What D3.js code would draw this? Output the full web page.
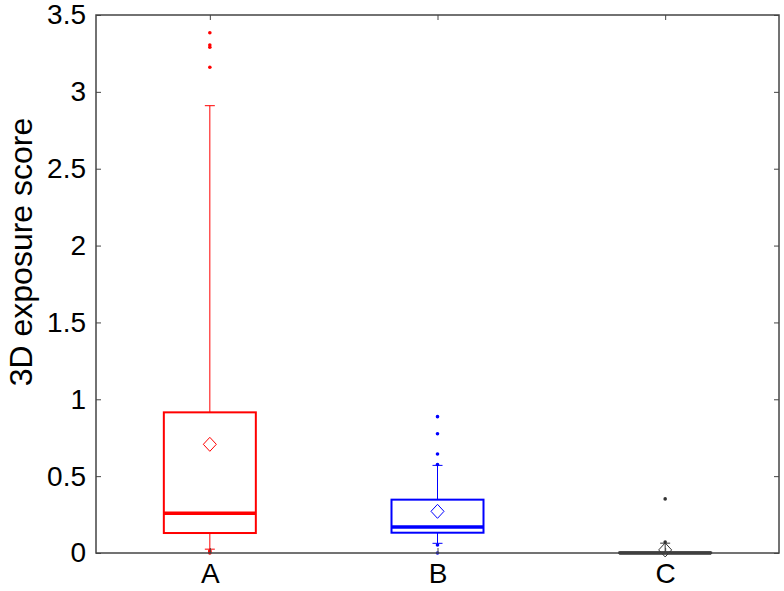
<!DOCTYPE html>
<html><head><meta charset="utf-8">
<script src="https://cdn.jsdelivr.net/npm/d3@7"></script>
<style>body{margin:0;background:#fff}svg{display:block}text{font-family:"Liberation Sans",Arial,sans-serif}</style>
</head><body><svg id="c" width="784" height="591"></svg>
<script>
const categories = ["A","B","C"];
const colors = ["#ff0000","#0000ff","#333333"];
const q1 = [0.13, 0.132, 0.0];
const medians = [0.258, 0.169, 0.0];
const q3 = [0.915, 0.347, 0.003];
const means = [0.707, 0.271, 0.02];
const whiskerLow = [0.025, 0.063, 0.0];
const whiskerHigh = [2.91, 0.57, 0.064];
const outliersA = [3.385, 3.305, 3.29, 3.16, 0.015, 0.008, 0.0];
const outliersB = [0.887, 0.776, 0.644, 0.575, 0.052, 0.0];
const outliersC = [0.352, 0.072];
const outliers = [outliersA, outliersB, outliersC];
const yTicks = [0,0.5,1,1.5,2,2.5,3,3.5];
const yLabel = "3D exposure score";

const svg = d3.select("#c");
const m = {l:96, r:5, t:15, b:38};
const W = 784, H = 591;
const x = d3.scaleLinear().domain([0.5,3.5]).range([m.l, W-m.r]);
const y = d3.scaleLinear().domain([0,3.5]).range([H-m.b, m.t]);
const boxHW = 46, capHW = 5;

const g = svg.append("g");
categories.forEach((c,i)=>{
  const cx = x(i+1), col = colors[i];
  const gg = g.append("g").attr("stroke", col).attr("fill","none");
  gg.append("line").attr("x1",cx).attr("x2",cx).attr("y1",y(q3[i])).attr("y2",y(whiskerHigh[i])).attr("stroke-width",1);
  gg.append("line").attr("x1",cx).attr("x2",cx).attr("y1",y(q1[i])).attr("y2",y(whiskerLow[i])).attr("stroke-width",1);
  gg.append("line").attr("x1",cx-capHW).attr("x2",cx+capHW).attr("y1",y(whiskerHigh[i])).attr("y2",y(whiskerHigh[i])).attr("stroke-width",1);
  gg.append("line").attr("x1",cx-capHW).attr("x2",cx+capHW).attr("y1",y(whiskerLow[i])).attr("y2",y(whiskerLow[i])).attr("stroke-width",1);
  gg.append("rect").attr("x",cx-boxHW).attr("width",boxHW*2)
    .attr("y",y(q3[i])).attr("height",Math.max(0.5,y(q1[i])-y(q3[i]))).attr("stroke-width",2);
  gg.append("line").attr("x1",cx-boxHW).attr("x2",cx+boxHW).attr("y1",y(medians[i])).attr("y2",y(medians[i])).attr("stroke-width",3.5);
  const my = y(means[i]), dx=6.5, dy=7;
  gg.append("path").attr("d",`M${cx},${my-dy}L${cx+dx},${my}L${cx},${my+dy}L${cx-dx},${my}Z`).attr("stroke-width",1).attr("fill","none");
  gg.selectAll("circle.o").data(outliers[i]).enter().append("circle")
    .attr("cx",cx).attr("cy",v=>y(v)).attr("r",1.8).attr("fill",col).attr("stroke","none");
});

const frame = svg.append("g");
frame.append("rect").attr("x",m.l).attr("y",m.t).attr("width",W-m.r-m.l).attr("height",H-m.b-m.t)
  .attr("fill","none").attr("stroke","#444").attr("stroke-width",1.5);

const yAxis = svg.append("g").attr("transform",`translate(${m.l},0)`)
  .call(d3.axisLeft(y).tickValues(yTicks).tickSize(-5).tickPadding(10).tickFormat(d3.format("")));
yAxis.select(".domain").remove();
yAxis.selectAll("line").attr("stroke","#444");
yAxis.selectAll("text").attr("font-size",28).attr("fill","#000").attr("font-family","Liberation Sans, Arial, sans-serif");
const yAxisR = svg.append("g").attr("transform",`translate(${W-m.r},0)`)
  .call(d3.axisRight(y).tickValues(yTicks).tickSize(-5).tickFormat(""));
yAxisR.select(".domain").remove();
yAxisR.selectAll("line").attr("stroke","#444");

const xAxis = svg.append("g").attr("transform",`translate(0,${H-m.b})`)
  .call(d3.axisBottom(x).tickValues([1,2,3]).tickSize(-5).tickPadding(10).tickFormat((d,i)=>categories[i]));
xAxis.select(".domain").remove();
xAxis.selectAll("line").attr("stroke","#444");
xAxis.selectAll("text").attr("font-size",28).attr("fill","#000").attr("font-family","Liberation Sans, Arial, sans-serif");
const xAxisT = svg.append("g").attr("transform",`translate(0,${m.t})`)
  .call(d3.axisTop(x).tickValues([1,2,3]).tickSize(-5).tickFormat(""));
xAxisT.select(".domain").remove();
xAxisT.selectAll("line").attr("stroke","#444");

svg.append("text").attr("transform",`translate(32,252) rotate(-90)`)
  .attr("text-anchor","middle").attr("font-size",32).attr("fill","#000").text(yLabel);
</script></body></html>
